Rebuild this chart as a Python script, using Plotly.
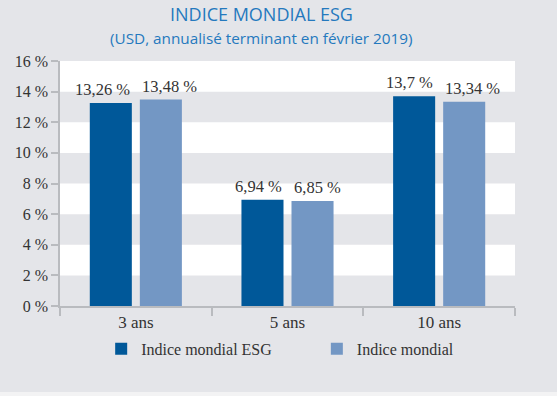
import plotly.graph_objects as go

categories = ["3 ans", "5 ans", "10 ans"]
esg_values = [13.26, 6.94, 13.7]
world_values = [13.48, 6.85, 13.34]
series_names = ["Indice mondial ESG", "Indice mondial"]
y_ticks = [0, 2, 4, 6, 8, 10, 12, 14, 16]
y_tick_labels = [f"{t} %" for t in y_ticks]

BG = "#e4e5e9"
DARK = "#005899"
LIGHT = "#7397c4"
AXIS = "#b9bbbf"
TXT = "#333333"
SERIF = "Liberation Serif, DejaVu Serif, serif"


def fr(v):
    return f"{v:g}".replace(".", ",") + " %"


fig = go.Figure()
annotations = []
for name, vals, col, leg, anchor, shift in [
        (series_names[0], esg_values, DARK, "legend", "right", -4),
        (series_names[1], world_values, LIGHT, "legend2", "left", 4)]:
    fig.add_trace(go.Bar(
        x=categories, y=vals, name=name, marker=dict(color=col, line=dict(width=0)),
        legend=leg, hoverinfo="x+y",
    ))
    for c, v in zip(categories, vals):
        annotations.append(dict(
            x=c, y=v, xref="x", yref="y", text=fr(v), showarrow=False,
            xanchor=anchor, yanchor="bottom", xshift=shift, yshift=2,
            font=dict(family=SERIF, size=16.5, color=TXT)))

# alternating white bands
shapes = []
for i in range(len(y_ticks) - 1):
    if i % 2 == 1:
        shapes.append(dict(type="rect", xref="paper", yref="y", x0=0, x1=1,
                           y0=y_ticks[i], y1=y_ticks[i + 1], fillcolor="white",
                           line=dict(width=0), layer="below"))
# light strip at the very bottom of the picture
shapes.append(dict(type="rect", xref="paper", yref="paper", x0=-1, x1=2,
                   y0=-0.351, y1=-0.5, fillcolor="#f3f3f4", line=dict(width=0), layer="below"))

leg_common = dict(orientation="h", y=-0.175, yanchor="middle", xanchor="left",
                  font=dict(family=SERIF, size=16, color=TXT), bgcolor="rgba(0,0,0,0)")

annotations += [
    dict(text="INDICE MONDIAL ESG", xref="paper", yref="paper", x=0.443, y=1.0,
         yshift=47, showarrow=False, xanchor="center", yanchor="middle",
         font=dict(family="Open Sans, sans-serif", size=18, color="#2479be")),
    dict(text="(USD, annualisé terminant en février 2019)", xref="paper", yref="paper",
         x=0.443, y=1.0, yshift=23.5, showarrow=False, xanchor="center", yanchor="middle",
         font=dict(family="Open Sans, sans-serif", size=15.3, color="#2479be")),
]

fig.update_layout(
    width=557, height=396,
    paper_bgcolor=BG, plot_bgcolor=BG,
    margin=dict(l=60, r=42, t=61, b=90),
    barmode="group", bargap=0.34, bargroupgap=0.16,
    shapes=shapes,
    showlegend=True,
    legend=dict(x=0.0905, **leg_common),
    legend2=dict(x=0.5645, **leg_common),
    annotations=annotations,
)

fig.update_xaxes(
    showline=True, linecolor=AXIS, linewidth=1.5, ticks="outside", tickson="boundaries",
    ticklen=8, tickcolor=AXIS, tickwidth=1.5,
    tickfont=dict(family=SERIF, size=17, color=TXT), showgrid=False,
)
fig.update_yaxes(
    range=[0, 16], tickvals=y_ticks, ticktext=y_tick_labels,
    showline=True, linecolor=AXIS, linewidth=1.5, ticks="outside", ticklen=7,
    tickcolor=AXIS, tickwidth=1.5, showgrid=False, zeroline=False,
    tickfont=dict(family=SERIF, size=16, color=TXT),
)

fig.write_html("out.html", config={"displayModeBar": False},
               post_script="document.body.style.margin='0';document.body.style.padding='0';")
